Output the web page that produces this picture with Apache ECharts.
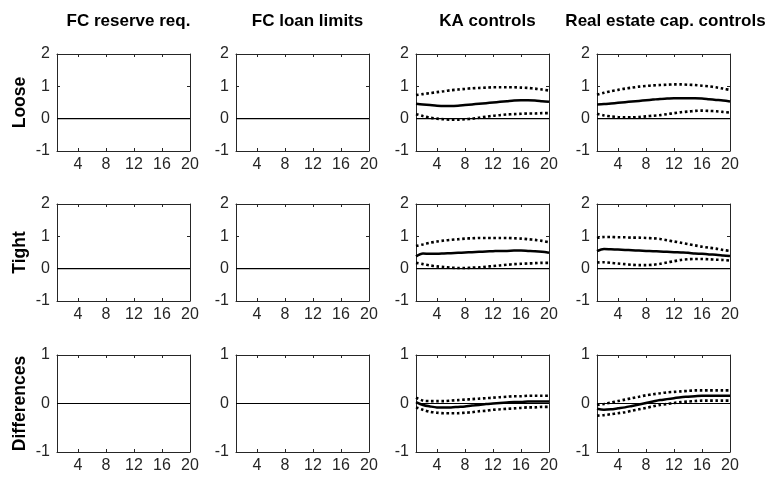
<!DOCTYPE html>
<html>
<head>
<meta charset="utf-8">
<script src="https://cdn.jsdelivr.net/npm/echarts@6/dist/echarts.min.js"></script>
<style>html,body{margin:0;padding:0;background:#fff}#c{width:769px;height:480px}</style>
</head>
<body>
<div id="c"></div>
<script>
// ---- data ----
const horizons = [1,2,3,4,5,6,7,8,9,10,11,12,13,14,15,16,17,18,19,20];
const xTicks = [4,8,12,16,20];
const columnTitles = ['FC reserve req.', 'FC loan limits', 'KA controls', 'Real estate cap. controls'];
const rowTitles = ['Loose', 'Tight', 'Differences'];
const yRangeTop = [-1, 2];
const yRangeDiff = [-1, 1];
const zeroLine = [0,0,0,0,0,0,0,0,0,0,0,0,0,0,0,0,0,0,0,0];

const kaLooseMed = [0.46,0.44,0.42,0.40,0.39,0.39,0.40,0.42,0.44,0.46,0.48,0.50,0.52,0.54,0.56,0.57,0.57,0.56,0.54,0.52];
const kaLooseUp  = [0.73,0.76,0.79,0.82,0.85,0.88,0.90,0.92,0.94,0.95,0.96,0.97,0.97,0.97,0.97,0.96,0.95,0.93,0.90,0.87];
const kaLooseLo  = [0.14,0.08,0.03,0.00,-0.02,-0.03,-0.03,-0.02,0.00,0.03,0.06,0.09,0.11,0.13,0.14,0.15,0.16,0.16,0.17,0.17];

const reLooseMed = [0.44,0.45,0.47,0.49,0.51,0.53,0.55,0.57,0.59,0.61,0.62,0.63,0.63,0.63,0.63,0.62,0.60,0.58,0.56,0.53];
const reLooseUp  = [0.74,0.80,0.85,0.89,0.93,0.96,0.99,1.01,1.03,1.04,1.05,1.06,1.06,1.05,1.04,1.02,1.00,0.97,0.93,0.89];
const reLooseLo  = [0.15,0.10,0.07,0.05,0.04,0.04,0.05,0.07,0.09,0.11,0.14,0.17,0.20,0.22,0.24,0.25,0.24,0.23,0.21,0.19];

const kaTightMed = [0.38,0.47,0.46,0.46,0.47,0.48,0.49,0.50,0.51,0.52,0.53,0.54,0.55,0.55,0.56,0.56,0.55,0.54,0.52,0.49];
const kaTightUp  = [0.70,0.75,0.80,0.84,0.87,0.89,0.91,0.93,0.94,0.95,0.95,0.95,0.95,0.95,0.94,0.93,0.91,0.89,0.86,0.82];
const kaTightLo  = [0.18,0.14,0.10,0.07,0.05,0.03,0.02,0.02,0.03,0.04,0.06,0.08,0.10,0.12,0.14,0.15,0.16,0.17,0.18,0.18];

const reTightMed = [0.54,0.61,0.60,0.59,0.58,0.57,0.56,0.55,0.54,0.53,0.52,0.51,0.50,0.49,0.47,0.46,0.44,0.43,0.41,0.39];
const reTightUp  = [0.95,0.98,0.98,0.97,0.97,0.96,0.96,0.95,0.94,0.92,0.88,0.84,0.80,0.76,0.72,0.68,0.65,0.62,0.58,0.55];
const reTightLo  = [0.19,0.20,0.18,0.16,0.14,0.12,0.11,0.11,0.12,0.15,0.19,0.23,0.27,0.29,0.30,0.30,0.29,0.28,0.27,0.25];

const kaDiffMed = [0.03,-0.03,-0.06,-0.08,-0.08,-0.08,-0.07,-0.06,-0.04,-0.03,-0.01,0.00,0.01,0.02,0.03,0.03,0.04,0.04,0.04,0.04];
const kaDiffUp  = [0.12,0.06,0.05,0.05,0.05,0.06,0.07,0.08,0.09,0.10,0.11,0.12,0.13,0.14,0.15,0.15,0.16,0.16,0.16,0.16];
const kaDiffLo  = [-0.08,-0.13,-0.17,-0.19,-0.20,-0.20,-0.20,-0.19,-0.18,-0.16,-0.15,-0.13,-0.12,-0.11,-0.10,-0.09,-0.08,-0.08,-0.07,-0.07];

const reDiffMed = [-0.11,-0.13,-0.12,-0.10,-0.08,-0.05,-0.02,0.01,0.04,0.07,0.09,0.11,0.13,0.14,0.15,0.16,0.16,0.16,0.16,0.16];
const reDiffUp  = [-0.03,-0.01,0.02,0.05,0.08,0.11,0.14,0.17,0.19,0.21,0.23,0.24,0.25,0.26,0.27,0.27,0.27,0.27,0.27,0.27];
const reDiffLo  = [-0.25,-0.24,-0.22,-0.20,-0.18,-0.15,-0.12,-0.09,-0.06,-0.03,-0.01,0.01,0.03,0.04,0.05,0.06,0.06,0.06,0.06,0.06];

// panel contents: [row][col] -> null (only zero line) or [median, upper, lower]
const panels = [
  [null, null, [kaLooseMed, kaLooseUp, kaLooseLo], [reLooseMed, reLooseUp, reLooseLo]],
  [null, null, [kaTightMed, kaTightUp, kaTightLo], [reTightMed, reTightUp, reTightLo]],
  [null, null, [kaDiffMed, kaDiffUp, kaDiffLo], [reDiffMed, reDiffUp, reDiffLo]]
];

// ---- layout ----
const FONT = 'Liberation Sans';
const TXT = '#262626';
const colLeft = [57, 236, 416, 597];
const rowTop = [54, 204, 355];
const W = 133, H = 97;

const grid = [], xAxis = [], yAxis = [], series = [], title = [];
const pair = (arr) => horizons.map((h, i) => [h, arr[i]]);

for (let r = 0; r < 3; r++) {
  const yr = r === 2 ? yRangeDiff : yRangeTop;
  for (let c = 0; c < 4; c++) {
    const g = grid.length;
    grid.push({left: colLeft[c], top: rowTop[r], width: W, height: H});
    const axLine = {show: true, onZero: false, lineStyle: {color: TXT, width: 1}};
    const tick = {show: true, inside: true, length: 3, lineStyle: {color: TXT}};
    xAxis.push({gridIndex: g, type: 'value', min: 1, max: 20, position: 'bottom',
      axisLine: axLine, splitLine: {show: false},
      axisTick: Object.assign({customValues: xTicks}, tick),
      axisLabel: {customValues: xTicks, fontFamily: FONT, fontSize: 16, color: TXT, margin: 6}});
    xAxis.push({gridIndex: g, type: 'value', min: 1, max: 20, position: 'top',
      axisLine: axLine, splitLine: {show: false},
      axisTick: Object.assign({customValues: xTicks}, tick),
      axisLabel: {show: false}});
    yAxis.push({gridIndex: g, type: 'value', min: yr[0], max: yr[1], interval: 1, position: 'left',
      axisLine: axLine, splitLine: {show: false}, axisTick: tick,
      axisLabel: {fontFamily: FONT, fontSize: 16, color: TXT, margin: 7}});
    yAxis.push({gridIndex: g, type: 'value', min: yr[0], max: yr[1], interval: 1, position: 'right',
      axisLine: axLine, splitLine: {show: false}, axisTick: tick,
      axisLabel: {show: false}});
    const xi = 2 * g, yi = 2 * g;
    series.push({type: 'line', xAxisIndex: xi, yAxisIndex: yi, data: pair(zeroLine),
      symbol: 'none', silent: true, lineStyle: {color: '#000', width: 1.2}});
    const p = panels[r][c];
    if (p) {
      series.push({type: 'line', xAxisIndex: xi, yAxisIndex: yi, data: pair(p[0]),
        symbol: 'none', smooth: 0.3, lineStyle: {color: '#000', width: 2.5}});
      [p[1], p[2]].forEach(arr => series.push({type: 'line', xAxisIndex: xi, yAxisIndex: yi, data: pair(arr),
        symbol: 'none', smooth: 0.3, lineStyle: {color: '#000', width: 2.6, type: [2.6, 2.6], cap: 'butt'}}));
    }
    if (r === 0) {
      title.push({text: columnTitles[c], left: colLeft[c] + W / 2 - (c === 3 ? 3 : 0), top: 8, textAlign: 'center',
        textStyle: {fontFamily: FONT, fontSize: 17, fontWeight: 'bold', color: '#000'}});
    }
  }
}

const graphic = rowTitles.map((t, r) => ({
  type: 'text', x: 20, y: rowTop[r] + H / 2, rotation: Math.PI / 2,
  style: {text: t, fontFamily: FONT, fontSize: 17.5, fontWeight: 'bold', fill: '#000',
    align: 'center', verticalAlign: 'middle'}
}));

const chart = echarts.init(document.getElementById('c'), null, {renderer: 'canvas'});
chart.setOption({animation: false, backgroundColor: '#fff', title, grid, xAxis, yAxis, series, graphic});
</script>
</body>
</html>
